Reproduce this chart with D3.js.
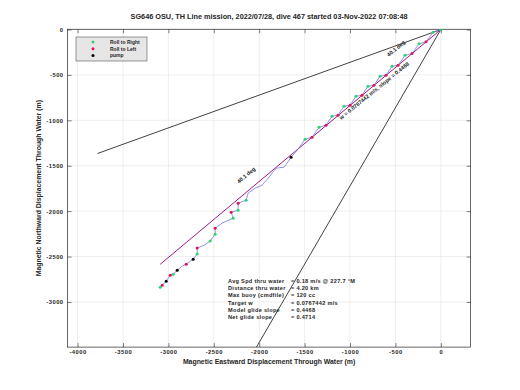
<!DOCTYPE html>
<html>
<head>
<meta charset="utf-8">
<script src="https://cdn.jsdelivr.net/npm/d3@7"></script>
<style>
  body { margin: 0; background: #fff; }
  text { font-family: "Liberation Sans", "DejaVu Sans", sans-serif; font-weight: bold; fill: #262626; }
</style>
</head>
<body>
<div id="chart"></div>
<script>
const titleText = "SG646 OSU, TH Line mission, 2022/07/28, dive 467 started 03-Nov-2022 07:08:48";
const xLabel = "Magnetic Eastward Displacement Through Water (m)";
const yLabel = "Magnetic Northward Displacement Through Water (m)";
const xTicks = [-4000, -3500, -3000, -2500, -2000, -1500, -1000, -500, 0];
const yTicks = [0, -500, -1000, -1500, -2000, -2500, -3000];

// glider track (east, north) in m, with marker kind: G roll right, R roll left, P pump
const trackX = [0, -86, -163, -240, -317, -394, -471, -537, -603, -669, -736, -802, -868, -934, -1000, -1066, -1132, -1198, -1264, -1341, -1418, -1495, -1572, -1649, -1693, -1726, -1814, -1902, -1968, -2045, -2122, -2144, -2232, -2232, -2309, -2287, -2408, -2485, -2485, -2540, -2606, -2683, -2683, -2727, -2804, -2848, -2903, -2947, -2980, -3024, -3068, -3090];
const trackY = [0, -30, -136, -157, -265, -284, -394, -405, -504, -515, -614, -625, -724, -735, -834, -845, -944, -955, -1054, -1076, -1186, -1208, -1318, -1406, -1472, -1516, -1527, -1637, -1714, -1747, -1802, -1879, -1912, -1989, -2011, -2077, -2132, -2187, -2253, -2330, -2374, -2407, -2473, -2529, -2584, -2606, -2650, -2694, -2705, -2771, -2815, -2837];
const trackKind = ["", "G", "R", "G", "R", "G", "R", "G", "R", "G", "R", "G", "R", "G", "R", "G", "R", "G", "R", "G", "R", "G", "", "P", "", "", "", "", "", "", "", "G", "R", "G", "R", "G", "", "R", "G", "G", "", "R", "G", "P", "R", "", "P", "G", "R", "P", "R", "G"];

// straight reference lines from the dive start
const guideEndX = [-3780, -2030];
const guideEndY = [-1365, -3497];
const meanEnd = [-3090, -2585];

const legendLabels = ["Roll to Right", "Roll to Left", "pump"];
const legendColors = ["#2fd36f", "#e0145a", "#000000"];

const infoLabels = ["Avg Spd thru water", "Distance thru water", "Max buoy (cmdfile)", "Target w", "Model glide slope", "Net glide slope"];
const infoValues = ["= 0.18 m/s @ 227.7 \u00B0M", "= 4.20 km", "= 120 cc", "= 0.0767442 m/s", "= 0.4468", "= 0.4714"];

const W = 520, H = 390;
const plot = { left: 67.6, right: 470.6, top: 29.25, bottom: 347.1 };

const svg = d3.select("#chart").append("svg").attr("width", W).attr("height", H);
svg.append("rect").attr("width", W).attr("height", H).attr("fill", "#fff");

const x = d3.scaleLinear().domain([-4110, 328]).range([plot.left, plot.right]);
const y = d3.scaleLinear().domain([-3497, 3]).range([plot.bottom, plot.top]);
const fmt = d3.format("d");
const tickFmt = d => fmt(d).replace("\u2212", "-");

svg.append("clipPath").attr("id", "clip").append("rect")
    .attr("x", plot.left).attr("y", plot.top)
    .attr("width", plot.right - plot.left).attr("height", plot.bottom - plot.top);

// grid
const grid = svg.append("g").attr("stroke", "#e3e3e3").attr("stroke-width", 0.6);
grid.selectAll(".gx").data(xTicks).join("line")
    .attr("x1", d => x(d)).attr("x2", d => x(d)).attr("y1", plot.top).attr("y2", plot.bottom);
grid.selectAll(".gy").data(yTicks).join("line")
    .attr("y1", d => y(d)).attr("y2", d => y(d)).attr("x1", plot.left).attr("x2", plot.right);

// axes (ticks inward, box)
const tickLen = 4;
svg.append("g").attr("transform", `translate(0,${plot.bottom})`)
    .call(d3.axisBottom(x).tickValues(xTicks).tickSizeInner(-tickLen).tickSizeOuter(0).tickPadding(3).tickFormat(tickFmt))
    .call(g => g.select(".domain").remove());
svg.append("g").attr("transform", `translate(0,${plot.top})`)
    .call(d3.axisTop(x).tickValues(xTicks).tickSizeInner(-tickLen).tickSizeOuter(0).tickFormat(""))
    .call(g => g.select(".domain").remove());
svg.append("g").attr("transform", `translate(${plot.left},0)`)
    .call(d3.axisLeft(y).tickValues(yTicks).tickSizeInner(-tickLen).tickSizeOuter(0).tickPadding(4).tickFormat(tickFmt))
    .call(g => g.select(".domain").remove());
svg.append("g").attr("transform", `translate(${plot.right},0)`)
    .call(d3.axisRight(y).tickValues(yTicks).tickSizeInner(-tickLen).tickSizeOuter(0).tickFormat(""))
    .call(g => g.select(".domain").remove());
svg.selectAll(".tick line").attr("stroke", "#262626").attr("stroke-width", 0.6);
svg.selectAll(".tick text").attr("font-size", 5.8).attr("letter-spacing", 0.5)
    .attr("font-family", "Liberation Sans, sans-serif")
    .attr("font-weight", "bold").attr("fill", "#262626");
svg.append("rect").attr("x", plot.left).attr("y", plot.top)
    .attr("width", plot.right - plot.left).attr("height", plot.bottom - plot.top)
    .attr("fill", "none").attr("stroke", "#262626").attr("stroke-width", 0.7);

const marks = svg.append("g").attr("clip-path", "url(#clip)");

// black guide lines
marks.selectAll(".guide").data(guideEndX).join("line")
    .attr("x1", x(0)).attr("y1", y(0))
    .attr("x2", d => x(d)).attr("y2", (d, i) => y(guideEndY[i]))
    .attr("stroke", "#111").attr("stroke-width", 0.8);

// mean track line
marks.append("line")
    .attr("x1", x(0)).attr("y1", y(0)).attr("x2", x(meanEnd[0])).attr("y2", y(meanEnd[1]))
    .attr("stroke", "#9b1a8e").attr("stroke-width", 1);

// glider track
const pts = trackX.map((v, i) => ({ x: v, y: trackY[i], k: trackKind[i] }));
marks.append("path").datum(pts)
    .attr("d", d3.line().x(d => x(d.x)).y(d => y(d.y)))
    .attr("fill", "none").attr("stroke", "#7676e0").attr("stroke-width", 0.8);
const kindColor = { G: legendColors[0], R: legendColors[1], P: legendColors[2] };
marks.selectAll(".m").data(pts.filter(d => d.k)).join("circle")
    .attr("cx", d => x(d.x)).attr("cy", d => y(d.y)).attr("r", 1.5)
    .attr("fill", d => kindColor[d.k]);
marks.append("circle").attr("cx", x(0)).attr("cy", y(0)).attr("r", 1.8).attr("fill", "#2fd36f");

// rotated line labels
const slopeLabels = [
    { t: "40.1 deg", px: -480, py: -225, a: -40 },
    { t: "40.1 deg", px: -2130, py: -1620, a: -40 },
    { t: "w = 0.0767442 m/s, slope = 0.4468", px: -720, py: -690, a: -39 }
];
svg.selectAll(".sl").data(slopeLabels).join("text")
    .attr("transform", d => `translate(${x(d.px)},${y(d.py)}) rotate(${d.a})`)
    .attr("text-anchor", "middle").attr("font-size", 5.5).text(d => d.t);

// legend
const lg = svg.append("g");
lg.append("rect").attr("x", 76).attr("y", 37).attr("width", 71).attr("height", 24)
    .attr("fill", "#e6e6e6").attr("stroke", "#555").attr("stroke-width", 0.6);
legendLabels.forEach((lab, i) => {
    lg.append("circle").attr("cx", 93).attr("cy", 42 + i * 6.8).attr("r", 1.5).attr("fill", legendColors[i]);
    lg.append("text").attr("x", 110).attr("y", 42 + i * 6.8).attr("dy", "0.35em")
        .attr("font-size", 5).text(lab);
});

// info text block
infoLabels.forEach((lab, i) => {
    svg.append("text").attr("x", 228).attr("y", 281 + i * 7.2).attr("dy", "0.35em")
        .attr("font-size", 5.6).attr("letter-spacing", 0.3).text(lab);
    svg.append("text").attr("x", 291).attr("y", 281 + i * 7.2).attr("dy", "0.35em")
        .attr("font-size", 5.6).attr("letter-spacing", 0.3).text(infoValues[i]);
});

// titles
svg.append("text").attr("x", (plot.left + plot.right) / 2).attr("y", 18.5)
    .attr("text-anchor", "middle").attr("font-size", 7.3).text(titleText);
svg.append("text").attr("x", (plot.left + plot.right) / 2).attr("y", 364)
    .attr("text-anchor", "middle").attr("font-size", 6.9).text(xLabel);
svg.append("text").attr("transform", `translate(41,${(plot.top + plot.bottom) / 2}) rotate(-90)`)
    .attr("text-anchor", "middle").attr("font-size", 6.9).text(yLabel);
</script>
</body>
</html>
